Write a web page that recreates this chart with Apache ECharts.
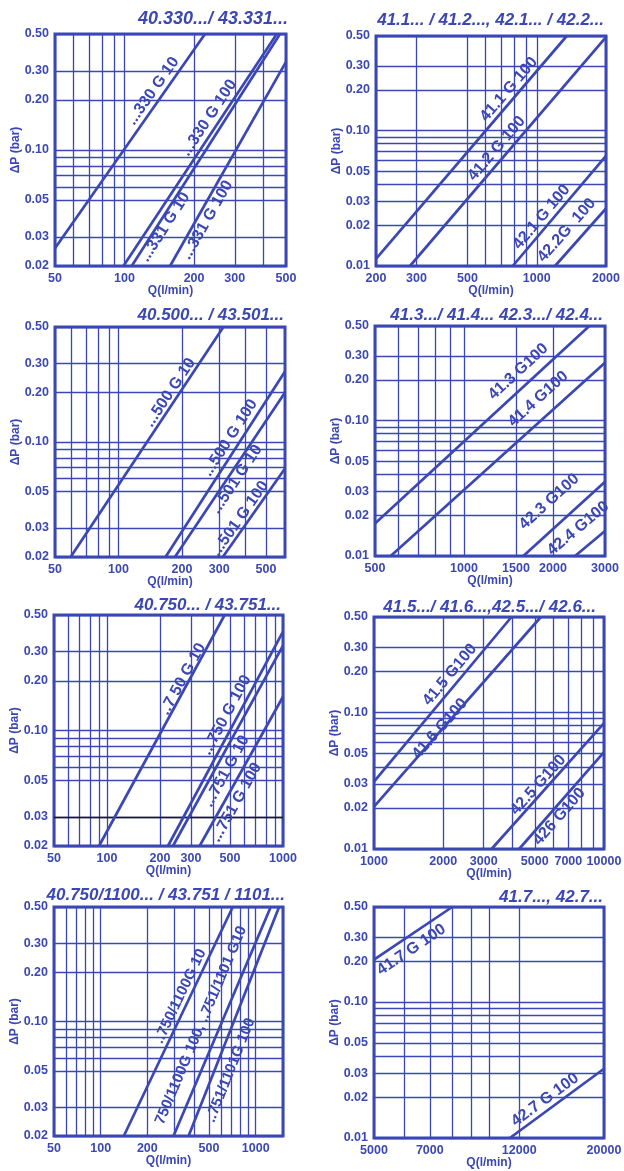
<!DOCTYPE html>
<html>
<head>
<meta charset="utf-8">
<title>Pressure drop curves</title>
<script src="https://cdn.jsdelivr.net/npm/echarts@6/dist/echarts.min.js"></script>
<style>
  html, body { margin: 0; padding: 0; background: #fff; }
  #chart { width: 624px; height: 1171px; }
</style>
</head>
<body>
<div id="chart"></div>
<script>
// ΔP (bar) over Q (l/min), log-log, one panel per filter series

const yTicksA = [0.02, 0.03, 0.05, 0.1, 0.2, 0.3, 0.5]
const yTicksB = [0.01, 0.02, 0.03, 0.05, 0.1, 0.2, 0.3, 0.5]
const yGridA = [0.02, 0.03, 0.05, 0.06, 0.07, 0.08, 0.09, 0.1, 0.2, 0.3, 0.5]
const yGridB = [0.01, 0.02, 0.03, 0.04, 0.05, 0.06, 0.07, 0.08, 0.09, 0.1, 0.2, 0.3, 0.5]

// curves: [label, Q from, ΔP from, Q to, ΔP to]
const p1Title = '40.330.../ 43.331...'
const p1XRange = [50, 500]
const p1XTicks = [50, 100, 200, 300, 500]
const p1XGrid = [50, 60, 70, 80, 90, 100, 200, 300, 400, 500]
const p1Curves = [
  ['...330 G 10', 50, 0.0256, 223, 0.5],
  ['...330 G 100', 98.9, 0.02, 456, 0.5],
  ['...331 G 10', 107.4, 0.02, 471, 0.5],
  ['...331 G 100', 157.4, 0.02, 500, 0.34]
]

const p2Title = '41.1... / 41.2..., 42.1... / 42.2...'
const p2XRange = [200, 2000]
const p2XTicks = [200, 300, 500, 1000, 2000]
const p2XGrid = [200, 300, 500, 600, 700, 800, 900, 1000, 2000]
const p2Curves = [
  ['41.1 G 100', 200, 0.0113, 1350, 0.5],
  ['41.2 G 100', 281, 0.01, 2000, 0.49],
  ['42.1 G 100', 786, 0.01, 2000, 0.065],
  ['42.2G  100', 1200, 0.01, 2000, 0.0266]
]

const p3Title = '40.500... / 43.501...'
const p3XRange = [50, 615]
const p3XTicks = [50, 100, 200, 300, 500]
const p3XGrid = [50, 60, 70, 80, 90, 100, 200, 300, 400, 500]
const p3Curves = [
  ['...500 G 10', 59.3, 0.02, 314, 0.5],
  ['...500 G 100', 167, 0.02, 615, 0.268],
  ['...501 G 10', 185, 0.02, 615, 0.2],
  ['...501 G 100', 312, 0.02, 615, 0.069]
]

const p4Title = '41.3.../ 41.4... 42.3.../ 42.4...'
const p4XRange = [500, 3000]
const p4XTicks = [500, 1000, 1500, 2000, 3000]
const p4XGrid = [500, 600, 700, 800, 900, 1000, 1500, 2000, 3000]
const p4Curves = [
  ['41.3 G100', 500, 0.0174, 2655, 0.5],
  ['41.4 G100', 565, 0.01, 3000, 0.268],
  ['42.3 G100', 1588, 0.01, 3000, 0.0354],
  ['42.4 G100', 2376, 0.01, 3000, 0.0153]
]

const p5Title = '40.750... / 43.751...'
const p5XRange = [50, 1000]
const p5XTicks = [50, 100, 200, 300, 500, 1000]
const p5XGrid = [50, 60, 70, 80, 90, 100, 200, 300, 400, 500, 600, 700, 800, 900, 1000]
const p5Curves = [
  ['..7 50 G 10', 90.1, 0.02, 466, 0.5],
  ['...750 G 100', 222, 0.02, 1000, 0.397],
  ['...751 G 10', 237, 0.02, 1000, 0.326],
  ['...751 G 100', 336, 0.02, 1000, 0.16]
]
const p5Mark = [0.03]

const p6Title = '41.5.../ 41.6...,42.5.../ 42.6...'
const p6XRange = [1000, 10000]
const p6XTicks = [1000, 2000, 3000, 5000, 7000, 10000]
const p6XGrid = [1000, 2000, 3000, 4000, 5000, 6000, 7000, 8000, 9000, 10000]
const p6Curves = [
  ['41.5 G100', 1000, 0.0312, 3960, 0.5],
  ['41.6 G100', 1000, 0.0204, 5313, 0.5],
  ['42.5 G100', 3244, 0.01, 10000, 0.0836],
  ['426 G100', 4275, 0.01, 10000, 0.0512]
]

const p7Title = '40.750/1100... / 43.751 / 1101...'
const p7XRange = [50, 1500]
const p7XTicks = [50, 100, 200, 500, 1000]
const p7XGrid = [50, 60, 70, 80, 90, 100, 200, 300, 400, 500, 600, 700, 800, 900, 1000, 1500]
const p7Curves = [
  ['..750/1100G 10', 141, 0.02, 711, 0.5],
  ['750/1100G 100, ..751/1101 G10', 295, 0.02, 1250, 0.5],
  ['..751/1101G 100', 369, 0.02, 1415, 0.5]
]

const p8Title = '41.7..., 42.7...'
const p8XRange = [5000, 20000]
const p8XTicks = [5000, 7000, 12000, 20000]
const p8XGrid = [5000, 6000, 7000, 8000, 9000, 10000, 12000, 20000]
const p8Curves = [
  ['41.7 G 100', 5000, 0.205, 8010, 0.5],
  ['42.7 G 100', 11340, 0.01, 20000, 0.0323]
]

// where each curve label sits (Q, ΔP), same order as the curves
const labelAt = [
  [[132.8, 0.2265], [232, 0.156], [149.7, 0.0343], [228, 0.0378]],
  [[757, 0.2018], [670, 0.0738], [1050, 0.023], [1349, 0.01837]],
  [[175.4, 0.1998], [337.6, 0.1058], [363, 0.0593], [376, 0.0342]],
  [[1527, 0.23], [1783, 0.1446], [1943, 0.0252], [2435, 0.016]],
  [[270, 0.2047], [477, 0.124], [477, 0.0567], [543, 0.0367]],
  [[2136, 0.1887], [1932, 0.0759], [5176, 0.0294], [6390, 0.01725]],
  [[326, 0.1425], [444, 0.0948], [688, 0.0504]],
  [[6266, 0.2424], [14020, 0.0191]]
]

const BLUE = '#3a47b5'
const FONT = '"Liberation Sans", Arial, sans-serif'

// [left, top, width, height], title right, title top, title size, label size
const layout = [
  [[55, 34, 231, 232], 336, 10, 18, 16],
  [[376, 36, 230, 230], 20, 12, 17, 16],
  [[55, 327, 230, 230], 340, 307, 17, 16],
  [[375, 326, 230, 230], 21, 307, 17, 16],
  [[54, 615, 229, 231], 343, 597, 17, 16],
  [[374, 617, 230, 232], 28, 599, 17, 16],
  [[54, 907, 229, 229], 339, 887, 17, 15],
  [[374, 907, 230, 231], 21, 889, 17, 16]
]

const panels = [
  { title: p1Title, x: p1XRange, y: [0.02, 0.5], xTicks: p1XTicks, xGrid: p1XGrid, yTicks: yTicksA, yGrid: yGridA, curves: p1Curves },
  { title: p2Title, x: p2XRange, y: [0.01, 0.5], xTicks: p2XTicks, xGrid: p2XGrid, yTicks: yTicksB, yGrid: yGridB, curves: p2Curves },
  { title: p3Title, x: p3XRange, y: [0.02, 0.5], xTicks: p3XTicks, xGrid: p3XGrid, yTicks: yTicksA, yGrid: yGridA, curves: p3Curves },
  { title: p4Title, x: p4XRange, y: [0.01, 0.5], xTicks: p4XTicks, xGrid: p4XGrid, yTicks: yTicksB, yGrid: yGridB, curves: p4Curves },
  { title: p5Title, x: p5XRange, y: [0.02, 0.5], xTicks: p5XTicks, xGrid: p5XGrid, yTicks: yTicksA, yGrid: yGridA, curves: p5Curves, mark: p5Mark },
  { title: p6Title, x: p6XRange, y: [0.01, 0.5], xTicks: p6XTicks, xGrid: p6XGrid, yTicks: yTicksB, yGrid: yGridB, curves: p6Curves },
  { title: p7Title, x: p7XRange, y: [0.02, 0.5], xTicks: p7XTicks, xGrid: p7XGrid, yTicks: yTicksA, yGrid: yGridA, curves: p7Curves },
  { title: p8Title, x: p8XRange, y: [0.01, 0.5], xTicks: p8XTicks, xGrid: p8XGrid, yTicks: yTicksB, yGrid: yGridB, curves: p8Curves }
]

const labelStyle = {
  color: BLUE,
  fontFamily: FONT,
  fontWeight: 'bold',
  fontSize: 12.5
}
const nameStyle = {
  color: BLUE,
  fontFamily: FONT,
  fontWeight: 'bold',
  fontSize: 12
}

const grids = []
const xAxes = []
const yAxes = []
const titles = []
const series = []
const seriesOf = []

panels.forEach((p, i) => {
  const [box, tRight, tTop, tSize] = layout[i]
  grids.push({
    left: box[0], top: box[1], width: box[2], height: box[3],
    show: true,
    borderColor: BLUE,
    borderWidth: 3,
    outerBoundsMode: 'none'
  })
  titles.push({
    text: p.title,
    right: tRight,
    top: tTop,
    padding: 0,
    textStyle: {
      color: BLUE,
      fontFamily: FONT,
      fontWeight: 'bold',
      fontStyle: 'italic',
      fontSize: tSize
    }
  })
  xAxes.push({
    type: 'log',
    logBase: 10,
    gridIndex: i,
    min: p.x[0],
    max: p.x[1],
    name: 'Q(l/min)',
    nameLocation: 'middle',
    nameGap: 19,
    nameMoveOverlap: false,
    nameTextStyle: nameStyle,
    axisLine: { show: false },
    axisTick: { show: false, customValues: p.xGrid },
    axisLabel: Object.assign({
      customValues: p.xTicks,
      margin: 6,
      formatter: v => String(Math.round(v))
    }, labelStyle),
    splitLine: { show: true, lineStyle: { color: BLUE, width: 1.3 } },
    minorTick: { show: false },
    minorSplitLine: { show: false }
  })
  yAxes.push({
    type: 'log',
    logBase: 10,
    gridIndex: i,
    min: p.y[0],
    max: p.y[1],
    name: 'ΔP (bar)',
    nameLocation: 'middle',
    nameGap: 33,
    nameMoveOverlap: false,
    nameTextStyle: nameStyle,
    axisLine: { show: false },
    axisTick: { show: false, customValues: p.yGrid },
    axisLabel: Object.assign({
      customValues: p.yTicks,
      margin: 6,
      formatter: v => v.toFixed(2)
    }, labelStyle),
    splitLine: { show: true, lineStyle: { color: BLUE, width: 1.3 } },
    minorTick: { show: false },
    minorSplitLine: { show: false }
  })
  seriesOf[i] = []
  p.curves.forEach((c, k) => {
    const s = {
      type: 'line',
      name: c[0],
      xAxisIndex: i,
      yAxisIndex: i,
      data: [[c[1], c[2]], [c[3], c[4]]],
      symbol: 'none',
      silent: true,
      z: 5,
      lineStyle: { color: BLUE, width: 2.7 }
    }
    if (p.mark && k === p.curves.length - 1) {
      s.markLine = {
        silent: true,
        symbol: 'none',
        label: { show: false },
        lineStyle: { color: '#1a1a1a', width: 1.3, type: 'solid' },
        data: p.mark.map(v => ({ yAxis: v }))
      }
    }
    seriesOf[i].push(series.length)
    series.push(s)
  })
})

const chart = echarts.init(document.getElementById('chart'), null, { renderer: 'canvas' })
chart.setOption({
  animation: false,
  backgroundColor: '#fff',
  title: titles,
  grid: grids,
  xAxis: xAxes,
  yAxis: yAxes,
  series: series
})

// curve labels, rotated along their curve
const texts = []
panels.forEach((p, i) => {
  p.curves.forEach((c, k) => {
    const at = labelAt[i][k]
    if (!at) return
    const finder = { seriesIndex: seriesOf[i][k] }
    const a = chart.convertToPixel(finder, [c[1], c[2]])
    const b = chart.convertToPixel(finder, [c[3], c[4]])
    const m = chart.convertToPixel(finder, at)
    texts.push({
      type: 'text',
      x: m[0],
      y: m[1],
      rotation: Math.atan2(a[1] - b[1], b[0] - a[0]),
      silent: true,
      z: 10,
      style: {
        text: c[0],
        fill: BLUE,
        fontFamily: FONT,
        fontWeight: 'bold',
        fontSize: layout[i][4],
        align: 'center',
        verticalAlign: 'middle'
      }
    })
  })
})
chart.setOption({ graphic: texts })
</script>
</body>
</html>
